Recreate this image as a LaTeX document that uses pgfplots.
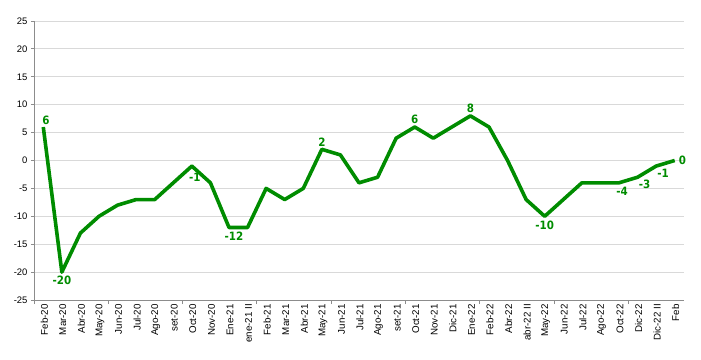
\documentclass[border=0pt]{standalone}
\usepackage{pgfplots}
\pgfplotsset{compat=1.18}
\usepackage{fontspec}
\setmainfont{Liberation Sans}
\newfontfamily\labfont{DejaVu Sans Condensed}
\definecolor{lgreen}{RGB}{0,140,0}
\definecolor{gridgray}{RGB}{217,217,217}
\definecolor{axgray}{RGB}{140,140,140}
\begin{document}
\begin{tikzpicture}
\begin{axis}[
  scale only axis,
  width=650bp, height=279bp,
  xmin=-0.5, xmax=34.5,
  ymin=-25, ymax=25,
  ytick={-25,-20,...,25},
  ymajorgrids,
  grid style={gridgray, line width=0.8bp},
  axis x line*=bottom,
  axis y line*=left,
  axis line style={axgray, line width=0.8bp},
  xtick={0,...,34},
  xticklabels={Feb-20,Mar-20,Abr-20,May-20,Jun-20,Jul-20,Ago-20,set-20,Oct-20,Nov-20,Ene-21,ene-21 II,Feb-21,Mar-21,Abr-21,May-21,Jun-21,Jul-21,Ago-21,set-21,Oct-21,Nov-21,Dic-21,Ene-22,Feb-22,Abr-22,abr-22 II,May-22,Jun-22,Jul-22,Ago-22,Oct-22,Dic-22,Dic-22 II,Feb},
  x tick label style={rotate=90, anchor=east, font=\fontsize{9.8}{11}\selectfont, inner sep=1bp, yshift=-1bp},
  y tick label style={font=\fontsize{9.5}{11}\selectfont},
  /pgf/number format/assume math mode=true,
  x tick style={draw=none},
  y tick style={axgray, line width=0.8bp},
  tick align=outside,
  major tick length=3bp,
  extra x ticks={-0.5,3.5,7.5,11.5,15.5,19.5,23.5,27.5,31.5},
  extra x tick labels={},
  extra x tick style={x tick style={draw=axgray, line width=0.8bp}, major tick length=4bp, grid=none},
  clip=false,
]
\addplot[lgreen, line width=3.6bp, line join=round] coordinates {
(0,6)(1,-20)(2,-13)(3,-10)(4,-8)(5,-7)(6,-7)(7,-4)(8,-1)(9,-4)
(10,-12)(11,-12)(12,-5)(13,-7)(14,-5)(15,2)(16,1)(17,-4)(18,-3)(19,4)
(20,6)(21,4)(22,6)(23,8)(24,6)(25,0)(26,-7)(27,-10)(28,-7)(29,-4)
(30,-4)(31,-4)(32,-3)(33,-1)(34,0)};
\begin{scope}[every node/.style={text=lgreen, font=\labfont\bfseries\fontsize{11.5}{13}\selectfont, inner sep=2bp}]
\node[above right, xshift=-3bp] at (axis cs:0,6) {6};
\node[below, yshift=-2bp] at (axis cs:1,-20) {-20};
\node[below, xshift=3bp, yshift=-5bp] at (axis cs:8,-1) {-1};
\node[below, xshift=5bp, yshift=-2bp] at (axis cs:10,-12) {-12};
\node[above, yshift=1bp] at (axis cs:15,2) {2};
\node[above, yshift=1bp] at (axis cs:20,6) {6};
\node[above, yshift=1bp] at (axis cs:23,8) {8};
\node[below, yshift=-2bp] at (axis cs:27,-10) {-10};
\node[below, xshift=3bp, yshift=-2bp] at (axis cs:31,-4) {-4};
\node[below, xshift=7bp, yshift=-1bp] at (axis cs:32,-3) {-3};
\node[below, xshift=7bp, yshift=-1bp] at (axis cs:33,-1) {-1};
\node[right, xshift=2bp] at (axis cs:34,0) {0};
\end{scope}
\end{axis}
\pgfresetboundingbox
\useasboundingbox ([shift={(-34bp,-60bp)}]current axis.south west) rectangle ([shift={(17bp,21bp)}]current axis.north east);
\end{tikzpicture}
\end{document}
